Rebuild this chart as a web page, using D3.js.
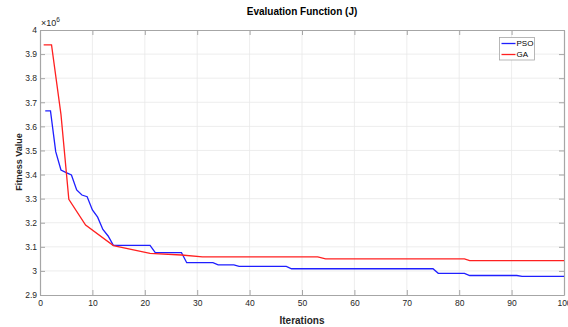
<!DOCTYPE html>
<html>
<head>
<meta charset="utf-8">
<script src="https://cdn.jsdelivr.net/npm/d3@7"></script>
<style>
  body { margin: 0; background: #fff; }
  svg { display: block; font-family: "Liberation Sans", Arial, sans-serif; }
</style>
</head>
<body>
<svg id="chart" width="568" height="327"></svg>
<script>
// values (fitness in units of 1e6)
var psoIter  = [1, 2, 3, 4, 5, 6, 7, 8, 9, 10, 11, 12, 13, 14, 21, 22, 27, 28, 33, 34, 37, 38, 47, 48, 75, 76, 81, 82, 91, 92, 100],
    psoValue = [3.664, 3.664, 3.495, 3.419, 3.408, 3.398, 3.336, 3.315, 3.308, 3.253, 3.223, 3.172, 3.145, 3.106,
                3.106, 3.076, 3.076, 3.034, 3.034, 3.025, 3.025, 3.019, 3.019, 3.009, 3.009, 2.990, 2.990,
                2.981, 2.981, 2.977, 2.977];

var gaIter  = [0.7, 2.2, 4, 5.5, 8.7, 14, 21, 27, 31, 53, 54.5, 81, 82, 100],
    gaValue = [3.938, 3.938, 3.650, 3.297, 3.190, 3.105, 3.073, 3.066, 3.058, 3.058, 3.050, 3.050, 3.043, 3.043];

var xTicks = [0, 10, 20, 30, 40, 50, 60, 70, 80, 90, 100],
    yTicks = [2.9, 3, 3.1, 3.2, 3.3, 3.4, 3.5, 3.6, 3.7, 3.8, 3.9, 4];

var seriesNames  = ['PSO', 'GA'],
    seriesColors = ['#1f1fff', '#ff2020'];

var svg      = d3.select('#chart'),
    plotL    = 40,
    plotR    = 564,
    plotT    = 30,
    plotB    = 295,
    axisCol  = '#262626',
    frameCol = '#a6a6a6',
    tickLen  = 5;

var x = d3.scaleLinear().domain([0, 100]).range([plotL, plotR]);
var y = d3.scaleLinear().domain([2.9, 4]).range([plotB, plotT]);

// grid
var grid = svg.append('g').attr('stroke', '#e8e8e8').attr('stroke-width', 0.8);
grid.selectAll('line.gx')
	.data(xTicks.slice(1, -1))
	.enter().append('line')
	.attr('x1', function(d){ return x(d); })
	.attr('x2', function(d){ return x(d); })
	.attr('y1', plotT).attr('y2', plotB);
grid.selectAll('line.gy')
	.data(yTicks.slice(1, -1))
	.enter().append('line')
	.attr('y1', function(d){ return y(d); })
	.attr('y2', function(d){ return y(d); })
	.attr('x1', plotL).attr('x2', plotR);

// axes (ticks point inward, like matlab)
var xAxis = svg.append('g')
	.attr('transform', 'translate(0,' + plotB + ')')
	.call(d3.axisBottom(x).tickValues(xTicks).tickSizeInner(-tickLen).tickSizeOuter(0).tickPadding(5));
var yAxis = svg.append('g')
	.attr('transform', 'translate(' + plotL + ',0)')
	.call(d3.axisLeft(y).tickValues(yTicks).tickFormat(d3.format('~g')).tickSizeInner(-tickLen).tickSizeOuter(0).tickPadding(3));
var xTop = svg.append('g')
	.attr('transform', 'translate(0,' + plotT + ')')
	.call(d3.axisTop(x).tickValues(xTicks).tickSizeInner(-tickLen).tickSizeOuter(0).tickFormat(''));
var yRight = svg.append('g')
	.attr('transform', 'translate(' + plotR + ',0)')
	.call(d3.axisRight(y).tickValues(yTicks).tickSizeInner(-tickLen).tickSizeOuter(0).tickFormat(''));

[xAxis, yAxis, xTop, yRight].forEach(function(g){
	g.selectAll('.domain').attr('stroke', frameCol).attr('stroke-width', 1.2);
	g.selectAll('.tick line').attr('stroke', frameCol);
	g.selectAll('text').attr('fill', axisCol).attr('font-size', 8.5).attr('font-family', null);
});

// series
var line = d3.line()
	.x(function(d){ return x(d[0]); })
	.y(function(d){ return y(d[1]); });

var series = [d3.zip(psoIter, psoValue), d3.zip(gaIter, gaValue)];

svg.append('g').selectAll('path')
	.data(series)
	.enter().append('path')
	.attr('fill', 'none')
	.attr('stroke', function(d, i){ return seriesColors[i]; })
	.attr('stroke-width', 1.3)
	.attr('d', line);

// exponent label
var expo = svg.append('text')
	.attr('x', plotL + 1)
	.attr('y', plotT - 4)
	.attr('font-size', 9)
	.attr('fill', axisCol);
expo.append('tspan').text('\u00d710');
expo.append('tspan').attr('font-size', 6.5).attr('dy', -4).text('6');

// title and axis labels
svg.append('text')
	.attr('x', 302).attr('y', 15)
	.attr('text-anchor', 'middle')
	.attr('font-size', 10).attr('font-weight', 'bold')
	.attr('fill', '#000')
	.text('Evaluation Function (J)');

svg.append('text')
	.attr('x', 302).attr('y', 324)
	.attr('text-anchor', 'middle')
	.attr('font-size', 10).attr('font-weight', 'bold')
	.attr('fill', axisCol)
	.text('Iterations');

svg.append('text')
	.attr('transform', 'translate(21.5,162) rotate(-90)')
	.attr('text-anchor', 'middle')
	.attr('font-size', 9).attr('font-weight', 'bold')
	.attr('fill', axisCol)
	.text('Fitness Value');

// legend
var legend = svg.append('g').attr('transform', 'translate(499.5,37.5)');
legend.append('rect')
	.attr('width', 35).attr('height', 22.5)
	.attr('fill', '#fff').attr('stroke', frameCol).attr('stroke-width', 0.8);
var item = legend.selectAll('g.item')
	.data(seriesNames)
	.enter().append('g')
	.attr('transform', function(d, i){ return 'translate(0,' + (6 + i * 11) + ')'; });
item.append('line')
	.attr('x1', 2).attr('x2', 16)
	.attr('stroke', function(d, i){ return seriesColors[i]; })
	.attr('stroke-width', 1.3);
item.append('text')
	.attr('x', 17).attr('dy', '0.35em')
	.attr('font-size', 8)
	.attr('fill', '#000')
	.text(function(d){ return d; });
</script>
</body>
</html>
